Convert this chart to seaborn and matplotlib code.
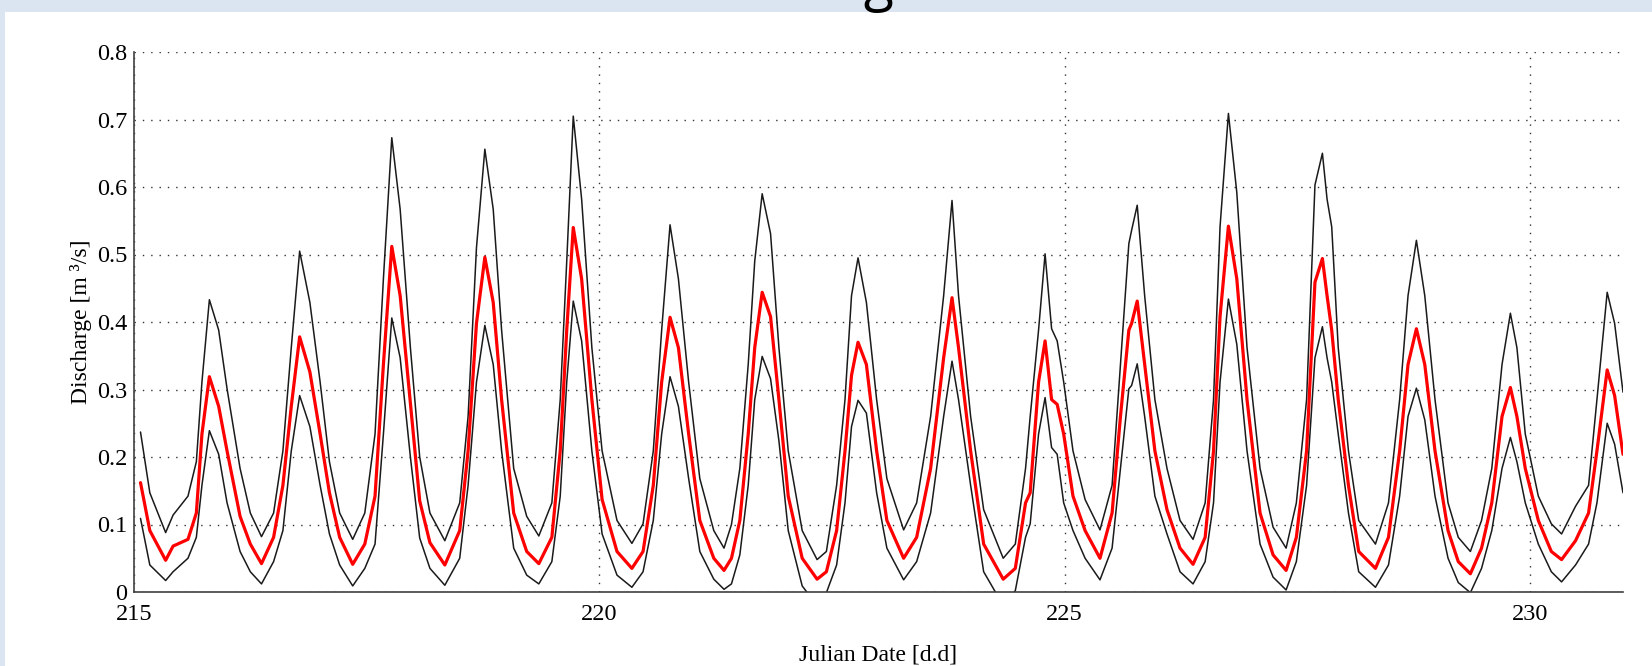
import matplotlib
matplotlib.use("Agg")
import matplotlib.pyplot as plt
import pandas as pd
import seaborn as sns
from matplotlib.patches import Rectangle

# ---------------- data ----------------
julian_day = [
    215.07, 215.17, 215.34, 215.42, 215.58, 215.67, 215.73, 215.81, 215.91, 216.00,
    216.14, 216.25, 216.37, 216.50, 216.60, 216.69, 216.78, 216.89, 217.00, 217.10,
    217.21, 217.35, 217.48, 217.59, 217.68, 217.77, 217.86, 217.97, 218.07, 218.18,
    218.34, 218.50, 218.59, 218.68, 218.77, 218.86, 218.95, 219.08, 219.22, 219.35,
    219.49, 219.58, 219.65, 219.72, 219.81, 219.92, 220.03, 220.19, 220.35, 220.47,
    220.58, 220.67, 220.76, 220.85, 220.96, 221.08, 221.23, 221.34, 221.42, 221.51,
    221.60, 221.67, 221.75, 221.84, 221.93, 222.03, 222.18, 222.34, 222.44, 222.55,
    222.64, 222.71, 222.78, 222.87, 222.98, 223.09, 223.27, 223.41, 223.56, 223.70,
    223.79, 223.86, 223.99, 224.13, 224.34, 224.47, 224.58, 224.63, 224.72, 224.79,
    224.86, 224.92, 224.99, 225.09, 225.22, 225.38, 225.51, 225.60, 225.69, 225.72,
    225.78, 225.86, 225.97, 226.10, 226.24, 226.38, 226.51, 226.60, 226.67, 226.76,
    226.85, 226.96, 227.10, 227.24, 227.38, 227.49, 227.60, 227.69, 227.77, 227.82,
    227.87, 227.94, 228.05, 228.16, 228.34, 228.48, 228.60, 228.69, 228.78, 228.87,
    228.98, 229.12, 229.23, 229.36, 229.48, 229.59, 229.70, 229.79, 229.86, 229.95,
    230.09, 230.23, 230.34, 230.49, 230.63, 230.72, 230.83, 230.91, 231.00,
]

upper_bound = [
    0.237, 0.147, 0.088, 0.114, 0.142, 0.193, 0.311, 0.433, 0.388, 0.301,
    0.183, 0.117, 0.082, 0.117, 0.209, 0.362, 0.505, 0.429, 0.311, 0.193,
    0.117, 0.078, 0.117, 0.234, 0.464, 0.673, 0.567, 0.362, 0.200, 0.117,
    0.076, 0.132, 0.260, 0.510, 0.656, 0.567, 0.388, 0.183, 0.112, 0.083,
    0.132, 0.285, 0.490, 0.705, 0.582, 0.362, 0.209, 0.106, 0.072, 0.101,
    0.209, 0.388, 0.544, 0.464, 0.311, 0.168, 0.091, 0.065, 0.100, 0.183,
    0.337, 0.490, 0.590, 0.531, 0.362, 0.209, 0.091, 0.048, 0.060, 0.158,
    0.285, 0.439, 0.495, 0.429, 0.285, 0.168, 0.092, 0.132, 0.260, 0.439,
    0.580, 0.439, 0.260, 0.122, 0.050, 0.071, 0.183, 0.260, 0.388, 0.501,
    0.390, 0.372, 0.311, 0.209, 0.137, 0.092, 0.158, 0.337, 0.516, 0.536,
    0.573, 0.439, 0.285, 0.183, 0.106, 0.078, 0.132, 0.285, 0.541, 0.709,
    0.592, 0.362, 0.183, 0.096, 0.065, 0.132, 0.285, 0.603, 0.650, 0.582,
    0.541, 0.362, 0.209, 0.106, 0.071, 0.132, 0.285, 0.439, 0.521, 0.439,
    0.285, 0.132, 0.081, 0.060, 0.106, 0.183, 0.337, 0.413, 0.362, 0.234,
    0.142, 0.101, 0.086, 0.127, 0.158, 0.285, 0.444, 0.398, 0.296,
]

mean_discharge = [
    0.162, 0.091, 0.047, 0.068, 0.078, 0.117, 0.234, 0.319, 0.275, 0.209,
    0.112, 0.071, 0.042, 0.081, 0.158, 0.275, 0.378, 0.326, 0.234, 0.147,
    0.081, 0.041, 0.071, 0.142, 0.337, 0.512, 0.439, 0.280, 0.135, 0.073,
    0.040, 0.091, 0.209, 0.398, 0.496, 0.429, 0.285, 0.117, 0.060, 0.042,
    0.081, 0.209, 0.388, 0.540, 0.464, 0.285, 0.137, 0.060, 0.035, 0.060,
    0.158, 0.311, 0.407, 0.362, 0.234, 0.106, 0.050, 0.032, 0.050, 0.106,
    0.234, 0.362, 0.444, 0.408, 0.285, 0.142, 0.050, 0.019, 0.030, 0.091,
    0.209, 0.321, 0.370, 0.337, 0.209, 0.106, 0.050, 0.081, 0.183, 0.347,
    0.436, 0.362, 0.209, 0.071, 0.019, 0.035, 0.132, 0.147, 0.311, 0.372,
    0.285, 0.278, 0.234, 0.142, 0.091, 0.050, 0.117, 0.260, 0.388, 0.398,
    0.431, 0.337, 0.209, 0.122, 0.065, 0.041, 0.081, 0.209, 0.408, 0.542,
    0.464, 0.285, 0.117, 0.055, 0.032, 0.081, 0.209, 0.459, 0.494, 0.439,
    0.388, 0.285, 0.158, 0.060, 0.035, 0.081, 0.209, 0.337, 0.390, 0.337,
    0.209, 0.091, 0.045, 0.027, 0.065, 0.132, 0.260, 0.303, 0.260, 0.183,
    0.106, 0.060, 0.048, 0.076, 0.117, 0.209, 0.329, 0.291, 0.204,
]

lower_bound = [
    0.109, 0.040, 0.017, 0.030, 0.050, 0.081, 0.158, 0.239, 0.204, 0.132,
    0.060, 0.030, 0.012, 0.045, 0.091, 0.209, 0.291, 0.245, 0.158, 0.086,
    0.040, 0.009, 0.035, 0.071, 0.234, 0.406, 0.347, 0.200, 0.080, 0.035,
    0.010, 0.050, 0.158, 0.311, 0.395, 0.337, 0.209, 0.065, 0.025, 0.012,
    0.045, 0.142, 0.311, 0.431, 0.372, 0.209, 0.086, 0.025, 0.007, 0.030,
    0.106, 0.234, 0.319, 0.275, 0.168, 0.060, 0.019, 0.004, 0.012, 0.055,
    0.158, 0.285, 0.349, 0.316, 0.224, 0.091, 0.009, -0.020, -0.001, 0.040,
    0.132, 0.245, 0.284, 0.265, 0.147, 0.065, 0.018, 0.045, 0.117, 0.260,
    0.342, 0.285, 0.158, 0.030, -0.020, 0.002, 0.081, 0.101, 0.234, 0.288,
    0.214, 0.204, 0.132, 0.091, 0.050, 0.018, 0.065, 0.183, 0.301, 0.306,
    0.338, 0.260, 0.142, 0.086, 0.030, 0.012, 0.045, 0.132, 0.311, 0.434,
    0.367, 0.209, 0.071, 0.022, 0.003, 0.045, 0.158, 0.347, 0.393, 0.347,
    0.311, 0.234, 0.117, 0.030, 0.007, 0.040, 0.142, 0.260, 0.302, 0.255,
    0.142, 0.050, 0.014, -0.001, 0.035, 0.091, 0.183, 0.229, 0.193, 0.132,
    0.071, 0.030, 0.015, 0.040, 0.071, 0.132, 0.250, 0.219, 0.147,
]

x_tick_values = [215, 220, 225, 230]
y_tick_values = [0, 0.1, 0.2, 0.3, 0.4, 0.5, 0.6, 0.7, 0.8]
y_tick_labels = ["0", "0.1", "0.2", "0.3", "0.4", "0.5", "0.6", "0.7", "0.8"]
title_text = "Discharge"
x_label = "Julian Date [d.d]"
y_label = "Discharge [m \u00b3/s]"

# ---------------- figure ----------------
sns.set_style("white")
plt.rcParams["font.family"] = ["Liberation Serif", "DejaVu Serif"]

W, H = 1652, 666
fig = plt.figure(figsize=(W / 100, H / 100), dpi=100, facecolor="#dbe5f1")
fig.patches.append(Rectangle((5 / W, 0), 1 - 5 / W, (H - 12) / H,
                             transform=fig.transFigure, facecolor="white",
                             edgecolor="none", zorder=-10))

# slide title (only its lowest part is visible at the top edge, as in the reference)
fig.text(926 / W, 1 + 1 / H, title_text, ha="right", va="baseline",
         fontsize=40, family=["Open Sans", "DejaVu Sans"], color="black",
         zorder=-5)

ax = fig.add_axes([134 / W, (H - 592) / H, 1489 / W, 540 / H])
ax.set_zorder(1)
ax.set_facecolor("white")

df = pd.DataFrame({"day": julian_day, "upper": upper_bound,
                   "mean": mean_discharge, "lower": lower_bound})

sns.lineplot(data=df, x="day", y="upper", ax=ax, color="#1a1a1a", lw=1.1,
             sort=False, estimator=None, zorder=3)
sns.lineplot(data=df, x="day", y="lower", ax=ax, color="#1a1a1a", lw=1.1,
             sort=False, estimator=None, zorder=3)
sns.lineplot(data=df, x="day", y="mean", ax=ax, color="#ff0000", lw=2.3,
             sort=False, estimator=None, zorder=4)

ax.set_xlim(215, 231)
ax.set_ylim(0, 0.8)
ax.set_xticks(x_tick_values)
ax.set_xticklabels([str(v) for v in x_tick_values])
ax.set_yticks(y_tick_values)
ax.set_yticklabels(y_tick_labels)

ax.grid(True, linestyle=(0, (1, 5)), color="#333333", lw=1.0)
ax.set_axisbelow(True)

for side in ("top", "right"):
    ax.spines[side].set_visible(False)
for side in ("left", "bottom"):
    ax.spines[side].set_color("#404040")
    ax.spines[side].set_linewidth(1.2)
    ax.spines[side].set_zorder(5)

ax.tick_params(axis="y", direction="in", length=9.3, width=1.0, color="#404040",
               pad=5, labelsize=17.5, labelcolor="black")
ax.tick_params(axis="x", direction="in", length=12, width=1.0, color="#404040",
               pad=9, labelsize=17.5, labelcolor="black")

ax.set_xlabel(x_label, fontsize=17, color="black")
ax.set_ylabel(y_label, fontsize=17, color="black")
ax.xaxis.set_label_coords(0.5, -(644 - 592) / 540)
ax.yaxis.set_label_coords(-(134 - 92) / 1489, 0.5)

fig.savefig("out.png", dpi=100, facecolor=fig.get_facecolor())
